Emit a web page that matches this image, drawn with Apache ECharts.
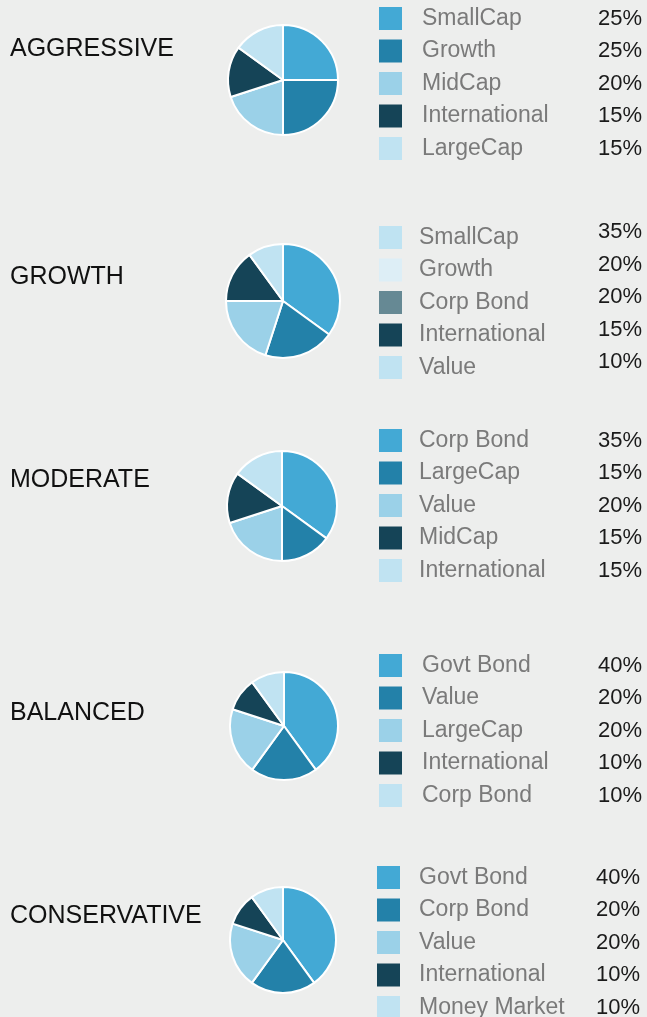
<!DOCTYPE html>
<html>
<head>
<meta charset="utf-8">
<script src="https://cdn.jsdelivr.net/npm/echarts@6/dist/echarts.min.js"></script>
<style>
  html, body { margin: 0; padding: 0; background: #edeeed; }
  #main { width: 647px; height: 1017px; }
</style>
</head>
<body>
<div id="main"></div>
<script>
// portfolio data
var portfolios = ['AGGRESSIVE', 'GROWTH', 'MODERATE', 'BALANCED', 'CONSERVATIVE'];

var aggressiveNames = ['SmallCap', 'Growth', 'MidCap', 'International', 'LargeCap'];
var aggressiveValues = [25, 25, 20, 15, 15];

var growthNames = ['SmallCap', 'Growth', 'Corp Bond', 'International', 'Value'];
var growthValues = [35, 20, 20, 15, 10];

var moderateNames = ['Corp Bond', 'LargeCap', 'Value', 'MidCap', 'International'];
var moderateValues = [35, 15, 20, 15, 15];

var balancedNames = ['Govt Bond', 'Value', 'LargeCap', 'International', 'Corp Bond'];
var balancedValues = [40, 20, 20, 10, 10];

var conservativeNames = ['Govt Bond', 'Corp Bond', 'Value', 'International', 'Money Market'];
var conservativeValues = [40, 20, 20, 10, 10];

var sliceColors = ['#43a9d5', '#2381a9', '#9bd1e8', '#154457', '#c0e3f2'];
// the growth legend uses its own swatches
var growthSwatches = ['#bfe3f2', '#ddeef6', '#668994', '#154457', '#c0e3f2'];

var allNames = [aggressiveNames, growthNames, moderateNames, balancedNames, conservativeNames];
var allValues = [aggressiveValues, growthValues, moderateValues, balancedValues, conservativeValues];

// layout
var pieCenters = [[283, 80], [283, 301], [282, 506], [284, 726], [283, 940]];
var pieRadius = [55, 57, 55, 54, 53];
var titleMid = [48, 276, 479, 712, 915];
var legendTop = [7, 221, 429, 654, 866];
var legendLeft = [379, 379, 379, 379, 377];
var textPad = [15, 12, 12, 15, 14];

var FONT = '"Liberation Sans", Arial, sans-serif';

var chart = echarts.init(document.getElementById('main'));

var titles = [], legends = [], series = [];

portfolios.forEach(function (p, i) {
  var names = allNames[i];
  var values = allValues[i];
  var swatches = i === 1 ? growthSwatches : sliceColors;

  titles.push({
    text: p,
    left: 10,
    top: titleMid[i] - 11,
    padding: 0,
    textStyle: { fontFamily: FONT, fontSize: 25, fontWeight: 'normal', color: '#111', lineHeight: 25 }
  });

  legends.push({
    orient: 'vertical',
    left: legendLeft[i],
    top: legendTop[i],
    height: 220,
    padding: 0,
    itemWidth: 23,
    itemHeight: 23,
    itemGap: i === 1 ? -0.5 : 9.5,
    icon: 'rect',
    selectedMode: false,
    itemStyle: { borderWidth: 0 },
    data: names.map(function (n, k) {
      return { name: n, itemStyle: { color: swatches[k], borderWidth: 0 } };
    }),
    formatter: function (name) {
      var k = names.indexOf(name);
      return '{n|' + name + '}{v|' + values[k] + '%}';
    },
    textStyle: {
      fontFamily: FONT,
      fontSize: 22,
      lineHeight: 23,
      rich: {
        n: { fontFamily: FONT, fontSize: 23, color: '#7a7a7a', width: 175 - textPad[i], padding: [0, 0, 0, textPad[i]], lineHeight: 23 },
        v: { fontFamily: FONT, fontSize: 22, color: '#1a1a1a', width: 60, align: 'right', lineHeight: 23,
             padding: i === 1 ? [0, 0, 11, 0] : 0 }
      }
    }
  });

  series.push({
    name: p,
    type: 'pie',
    center: pieCenters[i],
    radius: pieRadius[i],
    startAngle: 90,
    clockwise: true,
    legendIndex: i,
    label: { show: false },
    labelLine: { show: false },
    emphasis: { disabled: true },
    itemStyle: { borderColor: '#ffffff', borderWidth: 2 },
    data: names.map(function (n, k) {
      return { name: n, value: values[k], itemStyle: { color: sliceColors[k] } };
    })
  });
});

chart.setOption({
  backgroundColor: '#edeeed',
  animation: false,
  title: titles,
  legend: legends,
  series: series
});
</script>
</body>
</html>
